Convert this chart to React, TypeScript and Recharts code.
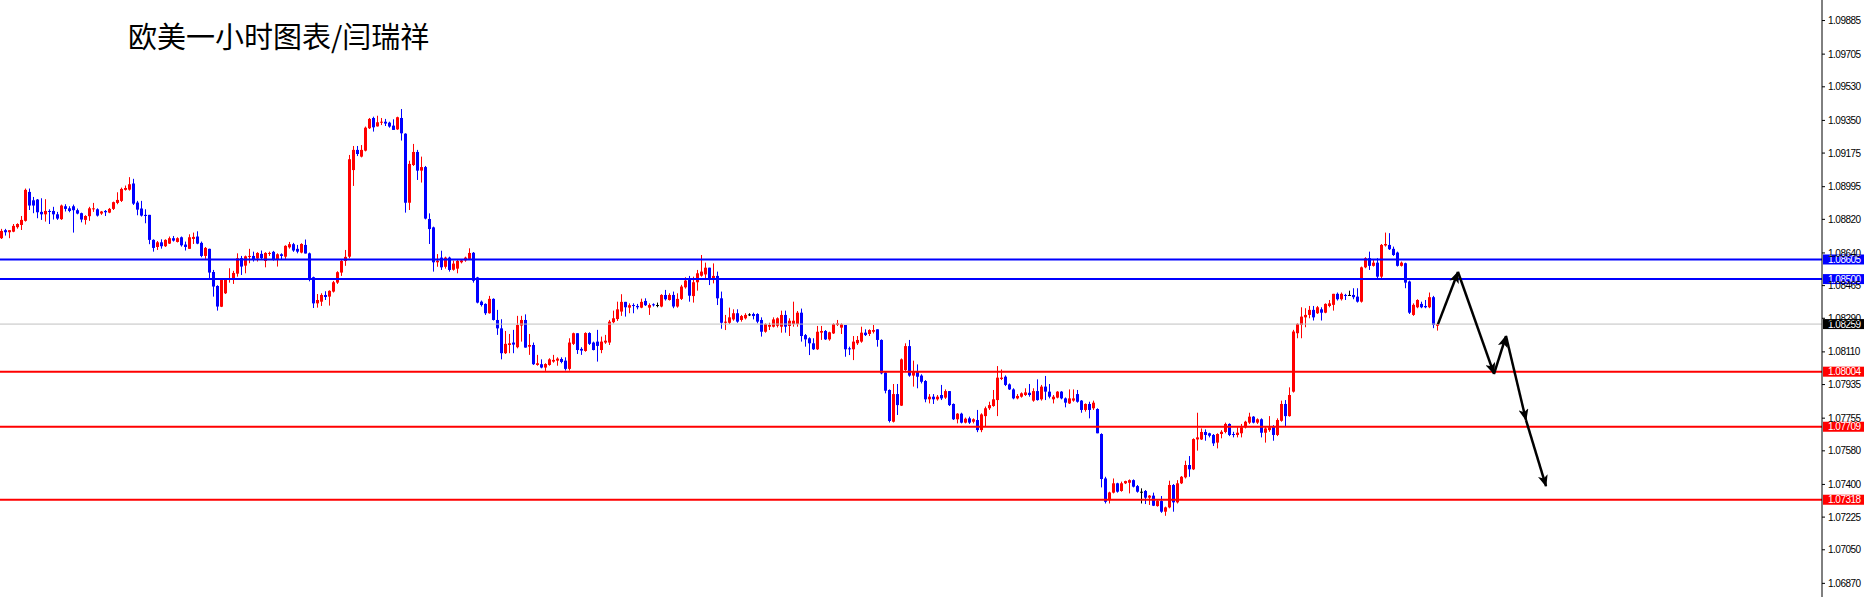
import React from 'react';
import { ComposedChart, Bar, Line, XAxis, YAxis, ReferenceLine } from 'recharts';

const title = '欧美一小时图表/闫瑞祥';

// hourly candles
const open = [
  1.08719, 1.08762, 1.08751, 1.08754, 1.08778, 1.0879, 1.08812, 1.08967, 1.08922, 1.08926,
  1.0886, 1.08847, 1.08865, 1.08865, 1.08847, 1.08821, 1.0889, 1.08879, 1.0889, 1.08869,
  1.08853, 1.08817, 1.08837, 1.08876, 1.08874, 1.08851, 1.08865, 1.08856, 1.08876, 1.08908,
  1.08919, 1.08978, 1.08979, 1.09012, 1.0891, 1.08878, 1.08844, 1.08844, 1.0871, 1.08672,
  1.08697, 1.08676, 1.0869, 1.08719, 1.08699, 1.08724, 1.08685, 1.08662, 1.08715, 1.08728,
  1.08694, 1.08624, 1.08662, 1.08538, 1.08463, 1.08352, 1.08424, 1.08501, 1.08495, 1.08529,
  1.08612, 1.08572, 1.0862, 1.08624, 1.0861, 1.08635, 1.08597, 1.08635, 1.08646, 1.08606,
  1.08633, 1.0862, 1.0867, 1.08687, 1.08662, 1.08642, 1.08683, 1.08638, 1.0851, 1.0837,
  1.08379, 1.08415, 1.08406, 1.08433, 1.08481, 1.08535, 1.08597, 1.0862, 1.09084, 1.09192,
  1.09156, 1.09188, 1.09308, 1.09363, 1.09318, 1.09338, 1.09343, 1.09338, 1.09322, 1.09302,
  1.09363, 1.09279, 1.08909, 1.09111, 1.09181, 1.09081, 1.091, 1.08822, 1.08777, 1.0859,
  1.08615, 1.08566, 1.08615, 1.0855, 1.08556, 1.0859, 1.086, 1.08608, 1.08641, 1.08509,
  1.08379, 1.08367, 1.08317, 1.08394, 1.08281, 1.08236, 1.08103, 1.08147, 1.0816, 1.08135,
  1.08251, 1.08281, 1.08138, 1.08147, 1.0804, 1.08044, 1.08026, 1.0804, 1.08058, 1.08063,
  1.08072, 1.08063, 1.08019, 1.08153, 1.0821, 1.08126, 1.08115, 1.08211, 1.0816, 1.08165,
  1.0812, 1.0816, 1.0816, 1.08269, 1.08286, 1.08326, 1.08378, 1.08347, 1.08361, 1.08356,
  1.08347, 1.08383, 1.08347, 1.08365, 1.08361, 1.08353, 1.08415, 1.08388, 1.08415, 1.08353,
  1.08394, 1.08456, 1.08495, 1.08409, 1.08483, 1.08518, 1.08525, 1.08561, 1.08495, 1.08517,
  1.08397, 1.08266, 1.08266, 1.08284, 1.08317, 1.08281, 1.0829, 1.08311, 1.08313, 1.08313,
  1.08281, 1.08218, 1.08245, 1.08245, 1.0825, 1.08245, 1.08308, 1.08249, 1.08259, 1.08259,
  1.0832, 1.082, 1.08183, 1.08156, 1.08124, 1.08213, 1.08222, 1.08177, 1.08209, 1.08254,
  1.0824, 1.08254, 1.08129, 1.08124, 1.08156, 1.08165, 1.08213, 1.08206, 1.08218, 1.08231,
  1.08174, 1.07999, 1.07906, 1.07736, 1.07884, 1.07822, 1.08013, 1.08141, 1.07983, 1.08004,
  1.07983, 1.07954, 1.07856, 1.0787, 1.07856, 1.07879, 1.07865, 1.079, 1.07831, 1.07749,
  1.07779, 1.07731, 1.07754, 1.07736, 1.07745, 1.07691, 1.07766, 1.07808, 1.0782, 1.07852,
  1.07965, 1.07977, 1.07936, 1.07909, 1.07861, 1.0787, 1.07879, 1.07891, 1.07849, 1.079,
  1.07856, 1.07924, 1.07897, 1.07856, 1.07865, 1.07897, 1.07861, 1.07834, 1.07849, 1.07884,
  1.07849, 1.07799, 1.07831, 1.07808, 1.07804, 1.0767, 1.07432, 1.07316, 1.07356, 1.07406,
  1.07365, 1.07406, 1.07409, 1.07423, 1.07391, 1.07361, 1.07365, 1.07329, 1.0734, 1.07284,
  1.07311, 1.07254, 1.07277, 1.07397, 1.07304, 1.07406, 1.07438, 1.07504, 1.07481, 1.07641,
  1.07641, 1.07681, 1.07674, 1.07665, 1.07624, 1.0767, 1.07681, 1.07724, 1.0767, 1.07665,
  1.07674, 1.07706, 1.07731, 1.07763, 1.07731, 1.07749, 1.07677, 1.07691, 1.07709, 1.07665,
  1.07741, 1.07831, 1.07766, 1.07897, 1.0821, 1.08254, 1.08295, 1.08308, 1.08335, 1.08317,
  1.08338, 1.0832, 1.08356, 1.08362, 1.08421, 1.08392, 1.08415, 1.08415, 1.08415, 1.08406,
  1.08379, 1.08563, 1.08612, 1.08571, 1.08588, 1.08513, 1.0868, 1.08683, 1.08662, 1.08642,
  1.08571, 1.08585, 1.08487, 1.08308, 1.08349, 1.08367, 1.08356, 1.08349, 1.08403, 1.0825,
];

const high = [
  1.08769, 1.08769, 1.08762, 1.08795, 1.08799, 1.08838, 1.08985, 1.08985, 1.0894, 1.08929,
  1.08933, 1.08928, 1.08874, 1.08887, 1.0886, 1.08899, 1.08901, 1.0889, 1.08899, 1.08878,
  1.08856, 1.08842, 1.08887, 1.08908, 1.08879, 1.08865, 1.0887, 1.08881, 1.08915, 1.08965,
  1.0899, 1.09001, 1.09046, 1.09037, 1.08919, 1.08919, 1.08874, 1.08844, 1.08713, 1.08704,
  1.08713, 1.08713, 1.08728, 1.08731, 1.08724, 1.08728, 1.08701, 1.0874, 1.08749, 1.08756,
  1.08701, 1.08672, 1.08663, 1.08549, 1.08467, 1.08498, 1.08503, 1.08558, 1.08544, 1.08638,
  1.08624, 1.08626, 1.08662, 1.08647, 1.08644, 1.08653, 1.08644, 1.08647, 1.08651, 1.08638,
  1.08638, 1.08681, 1.08699, 1.08694, 1.08683, 1.08692, 1.08712, 1.08642, 1.08513, 1.0842,
  1.08424, 1.08435, 1.0844, 1.0849, 1.08542, 1.08603, 1.08656, 1.09165, 1.09213, 1.09213,
  1.09218, 1.09317, 1.09363, 1.0937, 1.09375, 1.09363, 1.09358, 1.09343, 1.09356, 1.0937,
  1.09411, 1.09281, 1.09134, 1.09224, 1.09192, 1.09156, 1.09106, 1.08852, 1.08781, 1.08634,
  1.08652, 1.0862, 1.0862, 1.08599, 1.08602, 1.08604, 1.0862, 1.08665, 1.08645, 1.08512,
  1.08385, 1.0837, 1.0841, 1.08397, 1.08335, 1.08285, 1.08222, 1.08206, 1.08228, 1.08303,
  1.08303, 1.08311, 1.08206, 1.0816, 1.08094, 1.0807, 1.08049, 1.08076, 1.08094, 1.08081,
  1.08081, 1.08081, 1.08183, 1.08213, 1.0821, 1.08135, 1.08215, 1.08215, 1.08165, 1.08228,
  1.08192, 1.08201, 1.08281, 1.08331, 1.08379, 1.08419, 1.08378, 1.0837, 1.0837, 1.08367,
  1.08395, 1.08397, 1.0837, 1.0837, 1.08374, 1.08419, 1.08442, 1.08424, 1.08433, 1.08424,
  1.08469, 1.0851, 1.08517, 1.08513, 1.08549, 1.08629, 1.08588, 1.08561, 1.08584, 1.0854,
  1.08433, 1.08308, 1.08347, 1.08338, 1.08338, 1.08308, 1.08317, 1.08317, 1.0832, 1.08317,
  1.08295, 1.08263, 1.08266, 1.08295, 1.08295, 1.08331, 1.08331, 1.0829, 1.08379, 1.08329,
  1.08342, 1.08206, 1.08188, 1.08183, 1.08249, 1.08249, 1.08227, 1.08218, 1.08263, 1.08281,
  1.08263, 1.08254, 1.08138, 1.08195, 1.08195, 1.08245, 1.08231, 1.08231, 1.08254, 1.08231,
  1.08177, 1.08004, 1.07909, 1.07938, 1.07938, 1.08075, 1.08156, 1.08174, 1.08063, 1.08043,
  1.0799, 1.07959, 1.07884, 1.07884, 1.07879, 1.07933, 1.07909, 1.079, 1.07834, 1.07782,
  1.07784, 1.07758, 1.07763, 1.07754, 1.07799, 1.07781, 1.07817, 1.07843, 1.07906, 1.08034,
  1.08016, 1.07984, 1.07941, 1.07915, 1.07884, 1.07893, 1.07915, 1.07938, 1.07915, 1.07963,
  1.07933, 1.07981, 1.07938, 1.07879, 1.079, 1.079, 1.07866, 1.07909, 1.07909, 1.07906,
  1.07852, 1.07834, 1.07843, 1.07849, 1.07808, 1.07674, 1.07441, 1.07361, 1.07432, 1.07409,
  1.07415, 1.0742, 1.07427, 1.07427, 1.07397, 1.07379, 1.0737, 1.07343, 1.07356, 1.07316,
  1.07338, 1.07281, 1.0742, 1.07402, 1.07423, 1.07445, 1.07527, 1.07552, 1.07647, 1.07784,
  1.077, 1.07695, 1.07677, 1.0767, 1.07674, 1.07691, 1.07731, 1.07727, 1.07682, 1.07706,
  1.07724, 1.07741, 1.07784, 1.07766, 1.07754, 1.07754, 1.07709, 1.07766, 1.07718, 1.07754,
  1.07849, 1.07852, 1.0792, 1.08228, 1.08263, 1.08349, 1.08344, 1.08356, 1.08356, 1.08356,
  1.08349, 1.0837, 1.08388, 1.08421, 1.08428, 1.08428, 1.08421, 1.08438, 1.08451, 1.08451,
  1.08567, 1.08617, 1.08647, 1.08606, 1.08612, 1.08688, 1.08749, 1.08746, 1.08674, 1.08647,
  1.08594, 1.08588, 1.08492, 1.0837, 1.08392, 1.08379, 1.08388, 1.08428, 1.0841, 1.08263,
];

const low = [
  1.08715, 1.08733, 1.08719, 1.08751, 1.0877, 1.08763, 1.08808, 1.0887, 1.08853, 1.08826,
  1.08817, 1.08808, 1.08795, 1.08819, 1.08817, 1.08817, 1.08862, 1.08858, 1.08749, 1.08847,
  1.08804, 1.08792, 1.08812, 1.0886, 1.08835, 1.08844, 1.08838, 1.08853, 1.0887, 1.08901,
  1.08913, 1.08974, 1.08974, 1.08897, 1.08842, 1.08835, 1.08799, 1.08687, 1.08647, 1.08656,
  1.08663, 1.08672, 1.08688, 1.08701, 1.08696, 1.08674, 1.08653, 1.08662, 1.08688, 1.08687,
  1.08617, 1.08608, 1.08499, 1.08406, 1.08331, 1.0835, 1.0842, 1.08481, 1.08474, 1.08513,
  1.08522, 1.08531, 1.08585, 1.08594, 1.08594, 1.08603, 1.08563, 1.08624, 1.08599, 1.08567,
  1.08606, 1.08608, 1.08663, 1.08646, 1.08638, 1.08638, 1.08637, 1.08488, 1.08345, 1.08347,
  1.08356, 1.08388, 1.08358, 1.08428, 1.08474, 1.08517, 1.08571, 1.08611, 1.08999, 1.09159,
  1.09152, 1.09184, 1.09304, 1.0929, 1.09317, 1.09325, 1.0932, 1.09311, 1.09299, 1.09299,
  1.09242, 1.08856, 1.0887, 1.09106, 1.09031, 1.09017, 1.0882, 1.08688, 1.0854, 1.08566,
  1.08549, 1.08556, 1.0854, 1.08545, 1.08531, 1.08584, 1.08593, 1.08602, 1.08481, 1.0837,
  1.08353, 1.08308, 1.08315, 1.08278, 1.08201, 1.0807, 1.08099, 1.08103, 1.08103, 1.08129,
  1.08165, 1.08133, 1.08094, 1.0804, 1.08036, 1.08022, 1.08008, 1.08036, 1.08052, 1.08036,
  1.08049, 1.0801, 1.0801, 1.08147, 1.08099, 1.08094, 1.08111, 1.08147, 1.08118, 1.08058,
  1.08103, 1.08153, 1.08147, 1.08263, 1.08276, 1.08303, 1.08299, 1.08317, 1.08317, 1.08338,
  1.08344, 1.08356, 1.08308, 1.08353, 1.08349, 1.08349, 1.08385, 1.08385, 1.08344, 1.08347,
  1.08388, 1.08449, 1.08379, 1.08374, 1.08438, 1.08513, 1.08499, 1.08468, 1.08477, 1.08361,
  1.08234, 1.08227, 1.08259, 1.08277, 1.08266, 1.08272, 1.08284, 1.08302, 1.08284, 1.08263,
  1.08192, 1.08213, 1.08227, 1.08241, 1.08241, 1.08213, 1.08213, 1.08195, 1.08245, 1.08245,
  1.08165, 1.08138, 1.08093, 1.0812, 1.0812, 1.08174, 1.08174, 1.0817, 1.08206, 1.08249,
  1.08206, 1.08084, 1.08093, 1.08066, 1.08147, 1.08159, 1.08195, 1.08195, 1.08209, 1.08138,
  1.0799, 1.07888, 1.07732, 1.07732, 1.07772, 1.0782, 1.08008, 1.07977, 1.07924, 1.07915,
  1.07941, 1.0784, 1.07834, 1.07831, 1.07849, 1.07852, 1.07858, 1.0782, 1.07745, 1.07727,
  1.07727, 1.07727, 1.07724, 1.07727, 1.0768, 1.0768, 1.07709, 1.07799, 1.07816, 1.07766,
  1.07959, 1.07927, 1.07906, 1.07856, 1.07856, 1.07865, 1.07874, 1.0787, 1.07843, 1.07849,
  1.07849, 1.07852, 1.07861, 1.07834, 1.07861, 1.07856, 1.07813, 1.07831, 1.07843, 1.07838,
  1.07784, 1.0779, 1.07754, 1.07799, 1.07674, 1.07384, 1.07298, 1.07298, 1.07352, 1.07356,
  1.07361, 1.07402, 1.07352, 1.07384, 1.07356, 1.07298, 1.07295, 1.0729, 1.07284, 1.07281,
  1.07248, 1.07232, 1.07272, 1.07254, 1.07298, 1.07402, 1.07432, 1.07441, 1.07477, 1.07581,
  1.07638, 1.07634, 1.07652, 1.07606, 1.07593, 1.07647, 1.07674, 1.07659, 1.07652, 1.07652,
  1.07652, 1.077, 1.07724, 1.07727, 1.07724, 1.07652, 1.07624, 1.07682, 1.07634, 1.07659,
  1.07736, 1.07713, 1.07763, 1.07892, 1.08183, 1.08183, 1.08242, 1.0829, 1.08278, 1.08313,
  1.08278, 1.08317, 1.08349, 1.08331, 1.08385, 1.08385, 1.08388, 1.0841, 1.08392, 1.08374,
  1.08374, 1.08558, 1.08549, 1.08567, 1.08499, 1.08504, 1.08674, 1.08656, 1.08624, 1.08567,
  1.08567, 1.08451, 1.08313, 1.08303, 1.08344, 1.08344, 1.08344, 1.08344, 1.08237, 1.08224,
];

const close = [
  1.08758, 1.08751, 1.08762, 1.08785, 1.08795, 1.08817, 1.08978, 1.08894, 1.08894, 1.08858,
  1.08847, 1.08865, 1.0886, 1.08847, 1.08824, 1.08894, 1.08876, 1.08865, 1.08869, 1.08851,
  1.08819, 1.08838, 1.08879, 1.08879, 1.0884, 1.08862, 1.08858, 1.08876, 1.08912, 1.08924,
  1.08983, 1.08988, 1.09008, 1.08904, 1.08872, 1.0884, 1.08838, 1.0871, 1.08667, 1.08697,
  1.08676, 1.0871, 1.08719, 1.08706, 1.08719, 1.08681, 1.08672, 1.08724, 1.08726, 1.0869,
  1.08624, 1.08667, 1.08535, 1.0846, 1.08353, 1.08495, 1.085, 1.08504, 1.08533, 1.08612,
  1.08567, 1.08622, 1.08624, 1.08603, 1.0864, 1.08612, 1.0864, 1.0864, 1.08603, 1.08633,
  1.08624, 1.08678, 1.08687, 1.08653, 1.08647, 1.08688, 1.08637, 1.08504, 1.0837, 1.08388,
  1.08415, 1.08404, 1.08437, 1.08483, 1.08537, 1.08597, 1.08619, 1.09142, 1.09192, 1.0917,
  1.09192, 1.09311, 1.09358, 1.09313, 1.0934, 1.09343, 1.09333, 1.09317, 1.09299, 1.09367,
  1.09281, 1.08909, 1.09117, 1.09181, 1.09081, 1.091, 1.08824, 1.08768, 1.0859, 1.08599,
  1.08563, 1.08615, 1.08549, 1.08583, 1.08597, 1.086, 1.08615, 1.0864, 1.08491, 1.08374,
  1.08361, 1.08317, 1.08394, 1.08281, 1.08236, 1.08103, 1.08153, 1.08156, 1.08149, 1.08254,
  1.08281, 1.08133, 1.08147, 1.08044, 1.08049, 1.08026, 1.08045, 1.0807, 1.08067, 1.08074,
  1.08056, 1.08019, 1.0816, 1.0821, 1.0812, 1.08117, 1.08211, 1.08153, 1.0812, 1.08142,
  1.08165, 1.0817, 1.08272, 1.0829, 1.08338, 1.08378, 1.08349, 1.0836, 1.08356, 1.08349,
  1.08378, 1.0836, 1.08361, 1.0836, 1.08361, 1.08415, 1.08392, 1.08415, 1.08353, 1.08394,
  1.0846, 1.08492, 1.08411, 1.08483, 1.08531, 1.0854, 1.08561, 1.08499, 1.08517, 1.08397,
  1.08266, 1.08272, 1.08295, 1.08317, 1.08272, 1.08302, 1.08308, 1.08311, 1.08302, 1.08272,
  1.08218, 1.08259, 1.08254, 1.08284, 1.0829, 1.08308, 1.08245, 1.08277, 1.08277, 1.0832,
  1.08195, 1.08177, 1.08156, 1.08124, 1.08218, 1.08222, 1.08177, 1.08215, 1.08259, 1.08263,
  1.08258, 1.08124, 1.08124, 1.08165, 1.08174, 1.08213, 1.082, 1.08227, 1.08227, 1.08174,
  1.07995, 1.07902, 1.0774, 1.07884, 1.07825, 1.0807, 1.08141, 1.07983, 1.08004, 1.07977,
  1.0795, 1.07856, 1.0787, 1.07856, 1.0787, 1.07861, 1.079, 1.07825, 1.07749, 1.07779,
  1.07731, 1.07752, 1.07731, 1.07749, 1.07691, 1.07775, 1.07808, 1.07825, 1.07856, 1.07972,
  1.07972, 1.07933, 1.07909, 1.07861, 1.07874, 1.07888, 1.07893, 1.07879, 1.079, 1.07852,
  1.07924, 1.07897, 1.0787, 1.0787, 1.07897, 1.07861, 1.07838, 1.07861, 1.07861, 1.07843,
  1.07799, 1.07831, 1.07799, 1.07838, 1.07674, 1.07429, 1.07307, 1.07357, 1.07406, 1.07361,
  1.07406, 1.07418, 1.07423, 1.07388, 1.07361, 1.07361, 1.07329, 1.0734, 1.07286, 1.07311,
  1.07254, 1.07277, 1.07397, 1.07304, 1.07406, 1.07441, 1.07504, 1.07481, 1.07643, 1.07652,
  1.07681, 1.07665, 1.07661, 1.0762, 1.0767, 1.07682, 1.07724, 1.07665, 1.07665, 1.07677,
  1.07706, 1.07736, 1.07763, 1.07731, 1.07749, 1.07677, 1.077, 1.07706, 1.07665, 1.07745,
  1.07831, 1.07766, 1.07879, 1.08219, 1.0826, 1.08299, 1.08308, 1.08335, 1.08295, 1.08349,
  1.0832, 1.08367, 1.0837, 1.08421, 1.08392, 1.08421, 1.0841, 1.08415, 1.08403, 1.08379,
  1.08563, 1.08612, 1.08571, 1.08588, 1.08513, 1.08683, 1.08688, 1.0866, 1.08629, 1.08571,
  1.08588, 1.08481, 1.0832, 1.08362, 1.08388, 1.08349, 1.08349, 1.08403, 1.08254, 1.08259,
];

const priceTicks = [
  1.09885, 1.09705, 1.0953, 1.0935, 1.09175, 1.08995, 1.0882, 1.0864, 1.08465,
  1.0829, 1.0811, 1.07935, 1.07755, 1.0758, 1.074, 1.07225, 1.0705, 1.0687,
];

const resistance = [1.08605, 1.085];
const support = [1.08004, 1.07709, 1.07318];
const bid = 1.08259;

// hand-drawn forecast path: bar slot and price of each turning point
const forecastBars = [359, 364, 373, 376, 381, 386];
const forecastPrices = [1.08259, 1.08538, 1.07992, 1.08195, 1.07745, 1.07391];

const SLOTS = 455;
const FONT = '"Liberation Sans", Arial, sans-serif';

const data: any[] = Array.from({ length: SLOTS }, (_, i) =>
  i < open.length
    ? { i, o: open[i], h: high[i], l: low[i], c: close[i] }
    : { i }
);
forecastBars.forEach((bar, k) => {
  if (k > 0) data[bar][`f${k - 1}`] = forecastPrices[k];
  if (k < forecastBars.length - 1) data[bar][`f${k}`] = forecastPrices[k];
});

const Candle = (props: any) => {
  const { x, y, width, height, payload } = props;
  if (!payload || payload.o == null || !isFinite(y) || !isFinite(height)) return null;
  const { o, h, l, c } = payload;
  const yTop = Math.min(y, y + height);
  const yBot = Math.max(y, y + height);
  const span = h - l || 1e-9;
  const yOf = (v: number) => yTop + ((h - v) / span) * (yBot - yTop);
  const bTop = yOf(Math.max(o, c));
  const bBot = yOf(Math.min(o, c));
  const color = c > o ? '#ff0000' : c < o ? '#0000ff' : '#000000';
  const cx = Math.floor(x + width / 2) + 0.5;
  return (
    <g>
      <line x1={cx} x2={cx} y1={yTop} y2={yBot} stroke={color} strokeWidth={1} />
      <rect x={cx - 1.5} y={bTop} width={3} height={Math.max(bBot - bTop, 1)} fill={color} />
    </g>
  );
};

const priceTag = (text: string, bg: string) => (props: any) => {
  const vb = props.viewBox || {};
  const x = (vb.x || 0) + (vb.width || 0) + 1;
  const y = vb.y || 0;
  return (
    <g>
      <rect x={x} y={y - 5} width={42} height={10} fill={bg} />
      <text
        x={x + 5}
        y={y}
        dy="0.36em"
        fill="#ffffff"
        fontSize={10}
        letterSpacing={-0.5}
        fontFamily={FONT}
      >
        {text}
      </text>
    </g>
  );
};

export default function App() {
  return (
    <div style={{ position: 'absolute', left: 0, top: 0, width: 1864, height: 597, background: '#fff' }}>
      <div
        style={{
          position: 'absolute',
          left: 128,
          top: 21,
          fontSize: 29,
          lineHeight: '29px',
          fontFamily: '"Noto Sans CJK SC", sans-serif',
          color: '#000',
          whiteSpace: 'nowrap',
          zIndex: 2,
        }}
      >
        {title}
      </div>
      <ComposedChart
        width={1864}
        height={597}
        data={data}
        margin={{ top: 0, right: 0, bottom: 0, left: 0 }}
      >
        <defs>
          <marker
            id="arrowHead"
            viewBox="0 0 12 10"
            refX="11"
            refY="5"
            markerWidth="12"
            markerHeight="10"
            markerUnits="userSpaceOnUse"
            orient="auto"
          >
            <path d="M0,0 L12,5 L0,10 L3,5 z" fill="#000" />
          </marker>
        </defs>
        <XAxis dataKey="i" hide padding={{ left: 0, right: 2 }} />
        <YAxis
          orientation="right"
          width={42}
          type="number"
          domain={[1.06797, 1.09995]}
          allowDataOverflow
          ticks={priceTicks}
          interval={0}
          tickFormatter={(v: number) => v.toFixed(5)}
          tickSize={3}
          tickMargin={3}
          axisLine={{ stroke: '#000' }}
          tickLine={{ stroke: '#000' }}
          tick={{ fill: '#000', fontSize: 10, fontFamily: FONT, letterSpacing: -0.5 }}
        />
        <ReferenceLine y={bid} stroke="#c0c0c0" strokeWidth={1} label={priceTag(bid.toFixed(5), '#000000')} />
        {resistance.map((p) => (
          <ReferenceLine key={p} y={p} stroke="#0000ff" strokeWidth={2} label={priceTag(p.toFixed(5), '#0000ff')} />
        ))}
        {support.map((p) => (
          <ReferenceLine key={p} y={p} stroke="#ff0000" strokeWidth={2} label={priceTag(p.toFixed(5), '#ff0000')} />
        ))}
        <Bar
          dataKey={(d: any) => (d.o == null ? null : [d.l, d.h])}
          shape={Candle}
          isAnimationActive={false}
        />
        {forecastPrices.slice(1).map((_, k) => (
          <Line
            key={k}
            dataKey={`f${k}`}
            type="linear"
            stroke="#000"
            strokeWidth={2.5}
            dot={false}
            activeDot={false}
            connectNulls
            isAnimationActive={false}
            markerEnd="url(#arrowHead)"
          />
        ))}
      </ComposedChart>
    </div>
  );
}
